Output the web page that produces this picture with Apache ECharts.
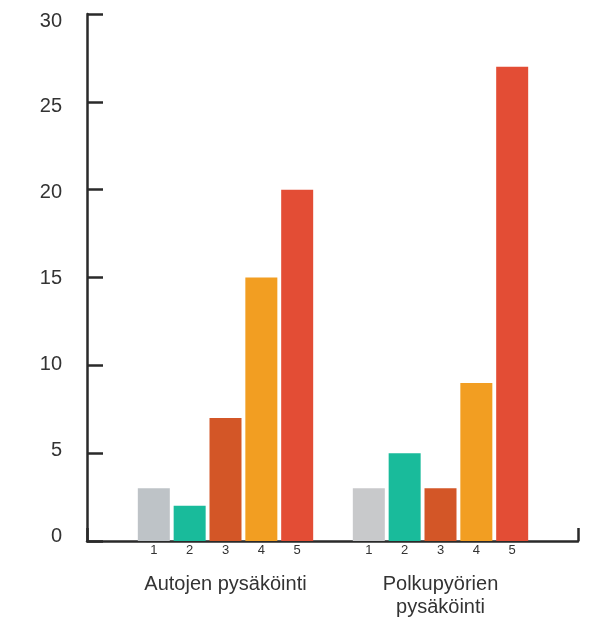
<!DOCTYPE html>
<html>
<head>
<meta charset="utf-8">
<script src="https://cdn.jsdelivr.net/npm/echarts@6/dist/echarts.min.js"></script>
<style>
html,body{margin:0;padding:0;background:#fff;}
#chart{width:601px;height:622px;}
</style>
</head>
<body>
<div id="chart"></div>
<script>
const categories = ['Autojen pysäköinti', 'Polkupyörien\npysäköinti'];
const seriesNames = ['1', '2', '3', '4', '5'];
const values1 = [3, 3];
const values2 = [2, 5];
const values3 = [7, 3];
const values4 = [15, 9];
const values5 = [20, 27];
const yTicks = [0, 5, 10, 15, 20, 25, 30];

const allValues = [values1, values2, values3, values4, values5];
const colors = ['#bec3c7', '#19bb9b', '#d35627', '#f29e22', '#e34d35'];
const firstBarColors = ['#bec3c7', '#c8c9cb'];
const textColor = '#333333';
const axisColor = '#2a2a2a';
const font = 'Liberation Sans';
const yMin = yTicks[0], yMax = yTicks[yTicks.length - 1], yStep = yTicks[1] - yTicks[0];

const chart = echarts.init(document.getElementById('chart'));
const series = seriesNames.map((name, i) => ({
  name: name,
  type: 'bar',
  xAxisIndex: 0,
  yAxisIndex: 0,
  barWidth: 32,
  barGap: '12%',
  itemStyle: { color: colors[i] },
  data: allValues[i].map((v, j) => i === 0 ? { value: v, itemStyle: { color: firstBarColors[j] } } : v),
  label: {
    show: true,
    position: 'bottom',
    distance: 3,
    formatter: () => name,
    color: textColor,
    fontSize: 13,
    fontFamily: font
  },
  emphasis: { disabled: true },
  animation: false
}));

chart.setOption({
  animation: false,
  grid: [
    { left: 118, right: 53, top: 14, bottom: 81 },
    { left: 87, right: 23, top: 14, bottom: 81 },
    { left: 87, right: 23, top: 21, bottom: 85.5 }
  ],
  xAxis: [
    {
      type: 'category',
      gridIndex: 0,
      data: categories,
      axisLine: { show: false },
      axisTick: { show: false },
      axisLabel: { color: textColor, fontSize: 20, fontFamily: font, margin: 32, lineHeight: 23 }
    },
    {
      type: 'value',
      gridIndex: 1,
      min: 0, max: 1, interval: 1,
      axisLine: { show: true, lineStyle: { color: axisColor, width: 2.5 } },
      axisTick: { show: true, inside: true, length: 13, lineStyle: { color: axisColor, width: 2.5 } },
      axisLabel: { show: false },
      splitLine: { show: false }
    },
    {
      type: 'value', gridIndex: 2, show: false, min: 0, max: 1, splitLine: { show: false }
    }
  ],
  yAxis: [
    {
      type: 'value', gridIndex: 0, min: yMin, max: yMax, interval: yStep,
      show: false, splitLine: { show: false }
    },
    {
      type: 'value', gridIndex: 1, min: yMin, max: yMax, interval: yStep,
      axisLine: { show: true, lineStyle: { color: axisColor, width: 2.5 } },
      axisTick: { show: true, inside: true, length: 16, lineStyle: { color: axisColor, width: 2.5 } },
      axisLabel: { show: false },
      splitLine: { show: false }
    },
    {
      type: 'value', gridIndex: 2, min: yMin, max: yMax, interval: yStep,
      axisLine: { show: false },
      axisTick: { show: false },
      axisLabel: { color: textColor, fontSize: 20, fontFamily: font, margin: 25 },
      splitLine: { show: false }
    }
  ],
  series: series
});
</script>
</body>
</html>
